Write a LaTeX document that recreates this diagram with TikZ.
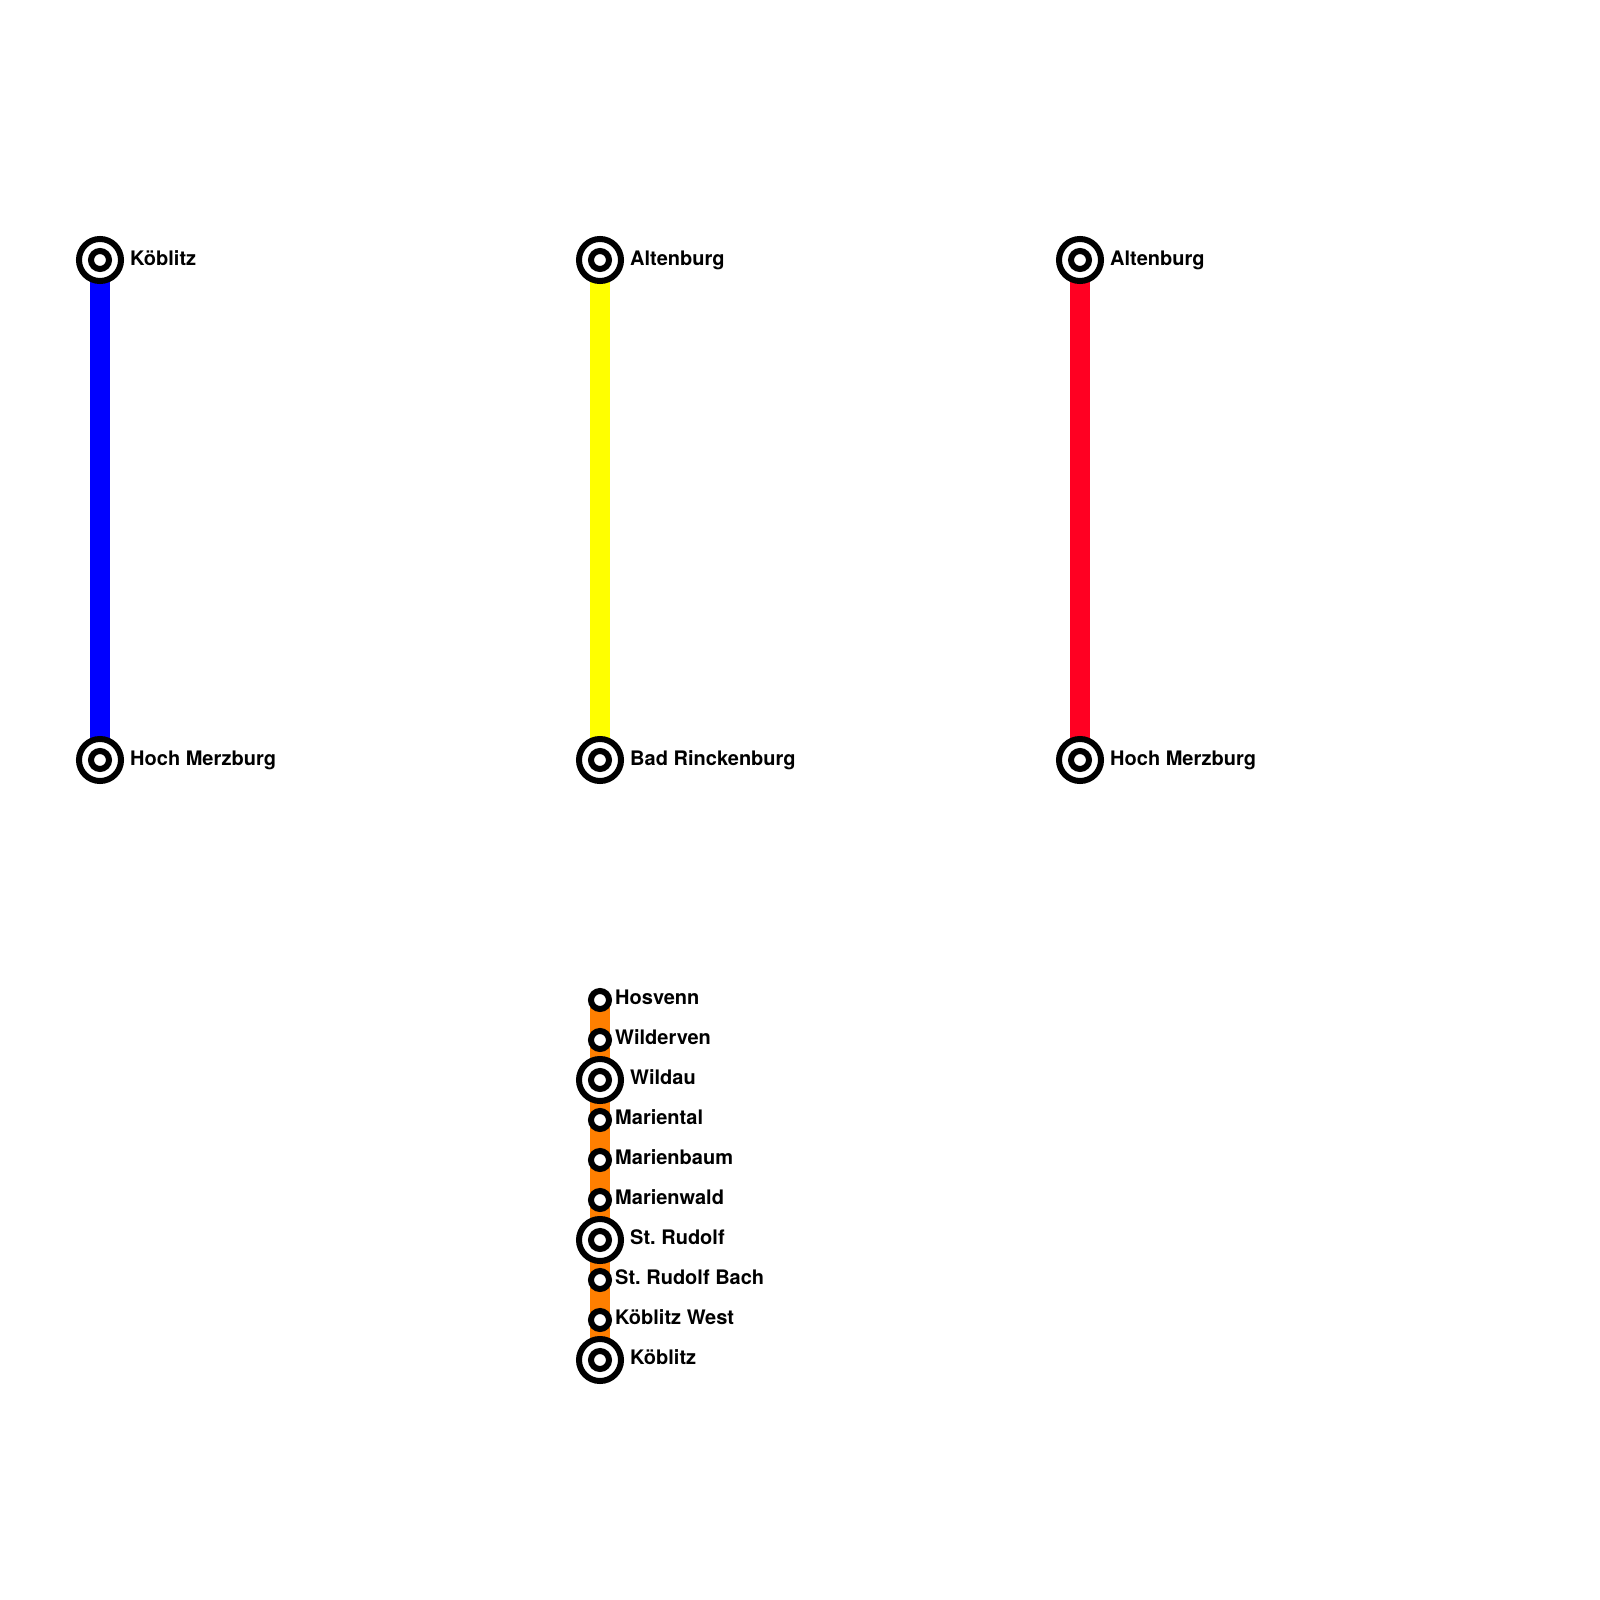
\documentclass[tikz,border=0pt]{standalone}
\usepackage{fontspec}
\setmainfont{TeX Gyre Heros}
\usepackage{xcolor}
\usepackage{tikz}
\usetikzlibrary{backgrounds}
\definecolor{lineblue}{HTML}{0000FF}
\definecolor{lineyellow}{HTML}{FFFF00}
\definecolor{linered}{HTML}{FF0022}
\definecolor{lineorange}{HTML}{FF7F00}
\frenchspacing

\begin{document}
\begin{tikzpicture}[x=0.01cm, y=-0.01cm,
    stop/.style={circle, draw=black, fill=white, line width=0.06cm, inner sep=0pt, minimum size=0.18cm},
    hub/.style={circle, draw=black, fill=white, line width=0.06cm, inner sep=0pt, minimum size=0.42cm},
    station/.style={anchor=base west, inner sep=0pt, font=\fontsize{5.69pt}{7pt}\selectfont\bfseries},
    route/.style={line width=0.2cm}]

    \useasboundingbox (0,0) rectangle (1600,1600);

    % blue line
    \node[hub] at (100,260) (koeblitzN) {};
    \node[stop] at (100,260) (koeblitzNin) {};
    \node[station] at (129.5,265) (koeblitzNtxt) {Köblitz};
    \node[hub] at (100,760) (hochA) {};
    \node[stop] at (100,760) (hochAin) {};
    \node[station] at (129.5,765) (hochAtxt) {Hoch Merzburg};

    % yellow line
    \node[hub] at (600,260) (altenburgA) {};
    \node[stop] at (600,260) (altenburgAin) {};
    \node[station] at (629.5,265) (altenburgAtxt) {Altenburg};
    \node[hub] at (600,760) (rinckenburg) {};
    \node[stop] at (600,760) (rinckenburgin) {};
    \node[station] at (629.5,765) (rinckenburgtxt) {Bad Rinckenburg};

    % red line
    \node[hub] at (1080,260) (altenburgB) {};
    \node[stop] at (1080,260) (altenburgBin) {};
    \node[station] at (1109.5,265) (altenburgBtxt) {Altenburg};
    \node[hub] at (1080,760) (hochB) {};
    \node[stop] at (1080,760) (hochBin) {};
    \node[station] at (1109.5,765) (hochBtxt) {Hoch Merzburg};

    % orange line
    \node[stop] at (600,1000) (hosvenn) {};
    \node[station] at (614.5,1004.8) (hosvenntxt) {Hosvenn};
    \node[stop] at (600,1040) (wilderven) {};
    \node[station] at (614.5,1044.8) (wilderventxt) {Wilderven};
    \node[hub] at (600,1080) (wildau) {};
    \node[stop] at (600,1080) (wildauin) {};
    \node[station] at (629.5,1084.8) (wildautxt) {Wildau};
    \node[stop] at (600,1120) (mariental) {};
    \node[station] at (614.5,1124.8) (marientaltxt) {Mariental};
    \node[stop] at (600,1160) (marienbaum) {};
    \node[station] at (614.5,1164.8) (marienbaumtxt) {Marienbaum};
    \node[stop] at (600,1200) (marienwald) {};
    \node[station] at (614.5,1204.8) (marienwaldtxt) {Marienwald};
    \node[hub] at (600,1240) (rudolf) {};
    \node[stop] at (600,1240) (rudolfin) {};
    \node[station] at (629.5,1244.8) (rudolftxt) {St. Rudolf};
    \node[stop] at (600,1280) (rudolfbach) {};
    \node[station] at (614.5,1284.8) (rudolfbachtxt) {St. Rudolf Bach};
    \node[stop] at (600,1320) (koeblitzwest) {};
    \node[station] at (614.5,1324.8) (koeblitzwesttxt) {Köblitz West};
    \node[hub] at (600,1360) (koeblitzS) {};
    \node[stop] at (600,1360) (koeblitzSin) {};
    \node[station] at (629.5,1364.8) (koeblitzStxt) {Köblitz};

    \begin{scope}[on background layer]
        \draw[route, draw=lineblue] (koeblitzN.center) -- (hochA.center);
        \draw[route, draw=lineyellow] (altenburgA.center) -- (rinckenburg.center);
        \draw[route, draw=linered] (altenburgB.center) -- (hochB.center);
        \draw[route, draw=lineorange] (hosvenn.center) -- (wilderven.center) -- (wildau.center) -- (mariental.center) -- (marienbaum.center) -- (marienwald.center) -- (rudolf.center) -- (rudolfbach.center) -- (koeblitzwest.center) -- (koeblitzS.center);
    \end{scope}
\end{tikzpicture}
\end{document}
